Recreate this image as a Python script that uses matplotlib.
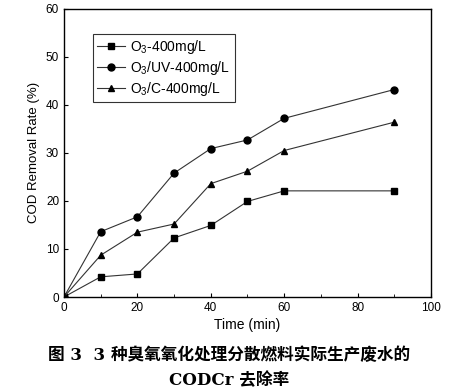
import matplotlib.pyplot as plt
import numpy as np

plt.rcParams['font.family'] = ['Liberation Sans', 'DejaVu Sans']
plt.rcParams['mathtext.fontset'] = 'custom'
plt.rcParams['mathtext.rm'] = 'Liberation Sans'

time = [0, 10, 20, 30, 40, 50, 60, 90]
o3 = [0, 4.2, 4.8, 12.3, 14.9, 19.9, 22.1, 22.1]
o3_uv = [0, 13.6, 16.7, 25.8, 30.9, 32.7, 37.2, 43.2]
o3_c = [0, 8.7, 13.5, 15.2, 23.6, 26.2, 30.5, 36.4]
labels = ["O$_3$-400mg/L", "O$_3$/UV-400mg/L", "O$_3$/C-400mg/L"]

fig = plt.figure(figsize=(4.59, 3.91), dpi=100)
ax = fig.add_axes([0.1394, 0.2404, 0.7996, 0.737])

line_kw = dict(color="#333333", linewidth=0.8, markersize=5,
               markerfacecolor="black", markeredgecolor="black")
ax.plot(time, o3, marker="s", label=labels[0], **line_kw)
ax.plot(time, o3_uv, marker="o", label=labels[1], **line_kw)
ax.plot(time, o3_c, marker="^", label=labels[2], **line_kw)

ax.set_xlim(0, 100)
ax.set_ylim(0, 60)
ax.set_xticks(np.arange(0, 101, 20))
ax.set_xticks(np.arange(10, 100, 20), minor=True)
ax.set_yticks(np.arange(0, 61, 10))
ax.tick_params(direction="in", labelsize=8.5, length=3, width=0.8)
ax.tick_params(which="minor", direction="in", length=2)
for s in ax.spines.values():
    s.set_linewidth(1.0)

ax.set_xlabel("Time (min)", fontsize=10, labelpad=3)
ax.set_ylabel("COD Removal Rate (%)", fontsize=9.5, labelpad=4)

leg = ax.legend(loc="upper left", bbox_to_anchor=(0.079, 0.913), fontsize=10,
                frameon=True, fancybox=False, edgecolor="black",
                handlelength=2.0, borderpad=0.3, labelspacing=0.22,
                borderaxespad=0, handletextpad=0.4)
leg.get_frame().set_linewidth(0.8)

cap_font = ["DejaVu Serif", "Noto Sans CJK SC"]
fig.text(0.5, 0.092, "图 3  3 种臭氧氧化处理分散燃料实际生产废水的",
         ha="center", va="center", fontsize=12, fontweight="bold", family=cap_font)
fig.text(0.5, 0.027, "CODCr 去除率",
         ha="center", va="center", fontsize=12, fontweight="bold", family=cap_font)

fig.savefig("out.png", dpi=100)
